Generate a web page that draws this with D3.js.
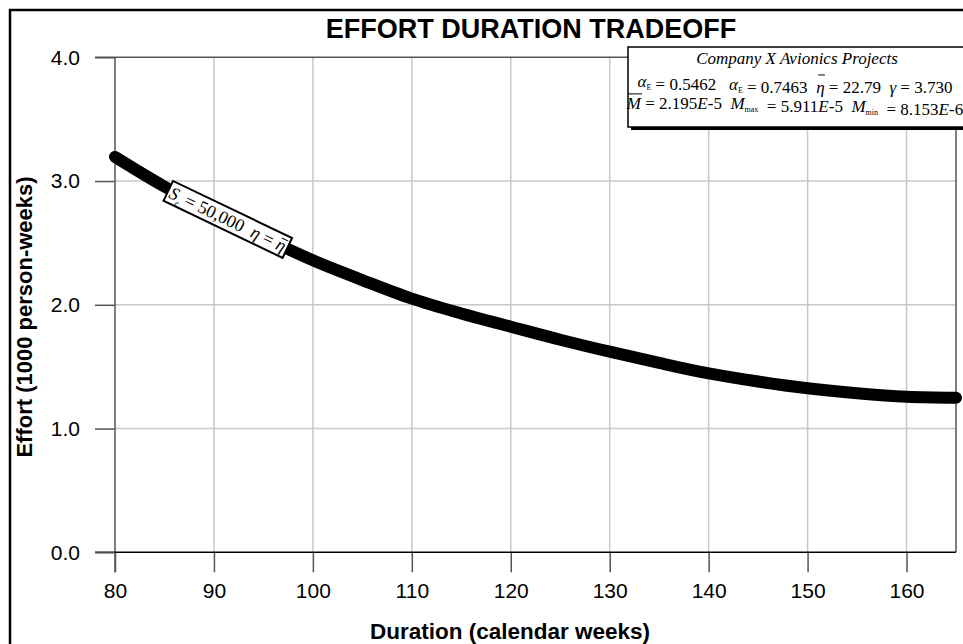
<!DOCTYPE html>
<html>
<head>
<meta charset="utf-8">
<script src="https://cdn.jsdelivr.net/npm/d3@7"></script>
<style>
  html, body { margin: 0; padding: 0; background: #fff; }
  svg { display: block; }
  .serif { font-family: "Liberation Serif", "Times New Roman", serif; }
</style>
</head>
<body>
<script>
// Effort vs. duration tradeoff curve (effort in thousands of person-weeks)
const durations = [80, 85, 90, 95, 100, 105, 110, 115, 120, 125, 130, 135, 140, 145, 150, 155, 160, 165];
const efforts   = [3.195, 2.955, 2.745, 2.545, 2.36, 2.2, 2.05, 1.93, 1.823, 1.718, 1.621, 1.53, 1.446, 1.38, 1.325, 1.285, 1.257, 1.249];
const xTicks = [80, 90, 100, 110, 120, 130, 140, 150, 160];
const yTicks = [0, 1, 2, 3, 4];
const labelAt = { duration: 91.4, effort: 2.69, angle: 25.6 };

const W = 963, H = 644;
const sans = "Arial, 'Liberation Sans', sans-serif";
const svg = d3.select("body").append("svg").attr("width", W).attr("height", H);

// outer frame
svg.append("rect").attr("x", 10).attr("y", 10).attr("width", W).attr("height", H)
  .attr("fill", "none").attr("stroke", "#000").attr("stroke-width", 2.5);

const x = d3.scaleLinear().domain([80, 165]).range([115, 956]);
const y = d3.scaleLinear().domain([0, 4]).range([552.3, 57.3]);

const grid = "#c8c8c8", dark = "#555";

// grid
svg.append("g").selectAll("line").data(xTicks.slice(1)).join("line")
  .attr("x1", d => x(d)).attr("x2", d => x(d)).attr("y1", y(4)).attr("y2", y(0))
  .attr("stroke", grid).attr("stroke-width", 1.5);
svg.append("g").selectAll("line").data(yTicks.slice(1, -1)).join("line")
  .attr("x1", x(80)).attr("x2", x(165)).attr("y1", d => y(d)).attr("y2", d => y(d))
  .attr("stroke", grid).attr("stroke-width", 1.5);

// plot border (top, left, right)
svg.append("line").attr("x1", x(80) - 20).attr("x2", x(165)).attr("y1", y(4)).attr("y2", y(4))
  .attr("stroke", dark).attr("stroke-width", 1.5);
svg.append("line").attr("x1", x(80)).attr("x2", x(80)).attr("y1", y(4)).attr("y2", y(0) + 20)
  .attr("stroke", dark).attr("stroke-width", 1.5);
svg.append("line").attr("x1", x(165)).attr("x2", x(165)).attr("y1", y(4)).attr("y2", y(0))
  .attr("stroke", dark).attr("stroke-width", 1.5);

// axes
const xAxis = d3.axisBottom(x).tickValues(xTicks).tickSize(20).tickPadding(11).tickFormat(d3.format("d"));
const gx = svg.append("g").attr("transform", `translate(0,${y(0)})`).call(xAxis);
gx.select(".domain").remove();
gx.selectAll(".tick line").attr("stroke", dark).attr("stroke-width", 1.5);
gx.selectAll(".tick text").attr("font-family", sans).attr("font-size", 21).attr("fill", "#000");
svg.append("line").attr("x1", x(80) - 20).attr("x2", x(165)).attr("y1", y(0)).attr("y2", y(0))
  .attr("stroke", "#000").attr("stroke-width", 1.5);

const yAxis = d3.axisLeft(y).tickValues(yTicks).tickSize(20).tickPadding(15).tickFormat(d3.format(".1f"));
const gy = svg.append("g").attr("transform", `translate(${x(80)},0)`).call(yAxis);
gy.select(".domain").remove();
gy.selectAll(".tick line").attr("stroke", dark).attr("stroke-width", 1.5);
gy.selectAll(".tick text").attr("font-family", sans).attr("font-size", 21).attr("fill", "#000");

// curve
const line = d3.line().x((d, i) => x(durations[i])).y(d => y(d)).curve(d3.curveCatmullRom);
svg.append("path").datum(efforts).attr("d", line)
  .attr("fill", "none").attr("stroke", "#000").attr("stroke-width", 12)
  .attr("stroke-linecap", "round").attr("stroke-linejoin", "round");

// symbol helpers: italic glyph, optional subscript, optional bar drawn above
const bars = [];
function sym(t, s, sub, bar) {
  const ts = t.append("tspan").attr("font-style", "italic").text(s);
  if (bar) bars.push({ node: ts.node(), parent: t.node().parentNode, lift: bar });
  if (sub) {
    t.append("tspan").attr("font-size", 8).attr("dy", 3).text(sub);
    t.append("tspan").attr("dy", -3).text("");
  }
}

// inline curve label
const lg = svg.append("g")
  .attr("transform", `translate(${x(labelAt.duration)},${y(labelAt.effort)}) rotate(${labelAt.angle})`);
lg.append("rect").attr("x", -66).attr("y", -11).attr("width", 132).attr("height", 22)
  .attr("fill", "#fff").attr("stroke", "#000").attr("stroke-width", 2);
const lt = lg.append("text").attr("class", "serif").attr("text-anchor", "middle")
  .attr("y", 6).attr("font-size", 18).attr("xml:space", "preserve");
lt.append("tspan").attr("font-style", "italic").text("S");
lt.append("tspan").attr("font-style", "italic").attr("font-size", 8).attr("dy", 4).text("e");
lt.append("tspan").attr("dy", -4).text(" = 50,000  ");
sym(lt, "\u03B7");
lt.append("tspan").text(" = ");
sym(lt, "\u03B7", null, 0.62);

// parameter box
const bx = 628, by = 47, bw = 340, bh = 80;
svg.append("rect").attr("x", bx + 3).attr("y", by + 3).attr("width", bw).attr("height", bh).attr("fill", "#000");
svg.append("rect").attr("x", bx).attr("y", by).attr("width", bw).attr("height", bh)
  .attr("fill", "#fff").attr("stroke", "#000").attr("stroke-width", 1.5);
const cx = 795;
svg.append("text").attr("class", "serif").attr("x", 797).attr("y", 64).attr("text-anchor", "middle")
  .attr("font-size", 17).attr("font-style", "italic").text("Company X Avionics Projects");

const l2 = svg.append("text").attr("class", "serif").attr("x", cx).attr("y", 87)
  .attr("text-anchor", "middle").attr("font-size", 17).attr("xml:space", "preserve");
sym(l2, "\u03B1", "E"); l2.append("tspan").text(" = 0.5462   ");
sym(l2, "\u03B1", "E"); l2.append("tspan").text(" = 0.7463  ");
sym(l2, "\u03B7", null, 0.62); l2.append("tspan").text(" = 22.79  ");
sym(l2, "\u03B3"); l2.append("tspan").text(" = 3.730");

const l3 = svg.append("text").attr("class", "serif").attr("x", cx).attr("y", 109)
  .attr("text-anchor", "middle").attr("font-size", 17).attr("xml:space", "preserve");
sym(l3, "M", null, 0.8); l3.append("tspan").text(" = 2.195");
sym(l3, "E"); l3.append("tspan").text("-5  ");
sym(l3, "M", "max"); l3.append("tspan").text("  = 5.911");
sym(l3, "E"); l3.append("tspan").text("-5  ");
sym(l3, "M", "min"); l3.append("tspan").text("  = 8.153");
sym(l3, "E"); l3.append("tspan").text("-6");

// bars over symbols, placed from the glyph extents
bars.forEach(b => {
  const textEl = b.node.parentNode;
  const fs = parseFloat(textEl.getAttribute("font-size"));
  const base = parseFloat(textEl.getAttribute("y"));
  const bb = b.node.getBBox();
  const yy = base - b.lift * fs - 1.5;
  d3.select(b.parent).append("line")
    .attr("x1", bb.x + fs * 0.12).attr("x2", bb.x + bb.width + fs * 0.02)
    .attr("y1", yy).attr("y2", yy)
    .attr("stroke", "#000").attr("stroke-width", 1);
});

// titles
svg.append("text").attr("x", 531).attr("y", 38).attr("text-anchor", "middle")
  .attr("font-family", sans).attr("font-weight", "bold")
  .attr("font-size", 27).text("EFFORT DURATION TRADEOFF");
svg.append("text").attr("x", 510).attr("y", 639).attr("text-anchor", "middle")
  .attr("font-family", sans).attr("font-weight", "bold")
  .attr("font-size", 22.5).text("Duration (calendar weeks)");
svg.append("text").attr("transform", "translate(32,317) rotate(-90)").attr("text-anchor", "middle")
  .attr("font-family", sans).attr("font-weight", "bold")
  .attr("font-size", 22).text("Effort (1000 person-weeks)");
</script>
</body>
</html>
